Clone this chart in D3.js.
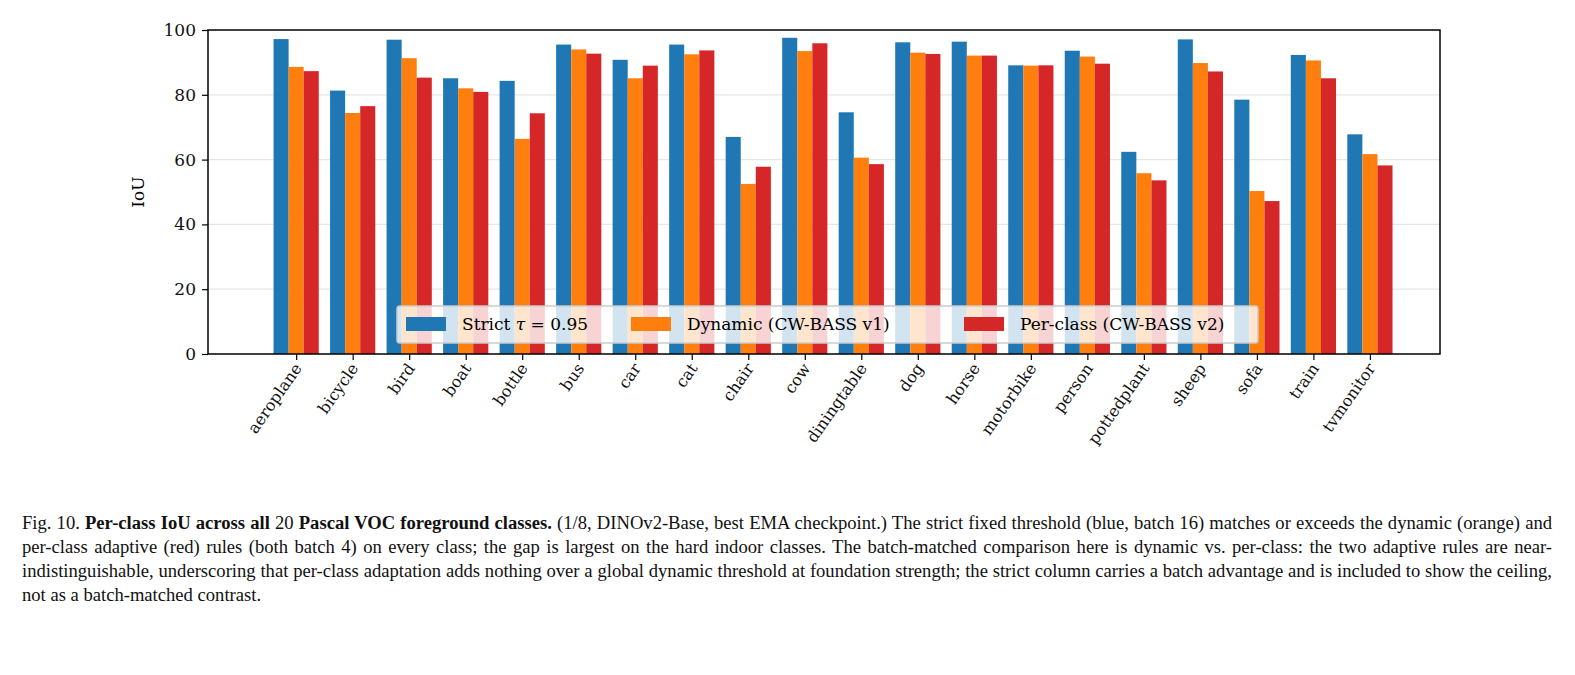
<!DOCTYPE html><html><head><meta charset="utf-8">
<script src="https://cdn.jsdelivr.net/npm/d3@7"></script>
<style>body{margin:0;background:#fff;width:1575px;height:675px;overflow:hidden}
.cap{position:absolute;left:22px;top:511px;width:1530px;font-family:"Liberation Serif",serif;font-size:18.6px;line-height:24px;text-align:justify;color:#111}</style></head><body>
<svg id="c" width="1575" height="500" style="position:absolute;left:0;top:0"></svg>
<div class="cap">Fig. 10. <b>Per-class IoU across all</b> 20 <b>Pascal VOC foreground classes.</b> (1/8, DINOv2-Base, best EMA checkpoint.) The strict fixed threshold (blue, batch 16) matches or exceeds the dynamic (orange) and per-class adaptive (red) rules (both batch 4) on every class; the gap is largest on the hard indoor classes. The batch-matched comparison here is dynamic vs. per-class: the two adaptive rules are near-indistinguishable, underscoring that per-class adaptation adds nothing over a global dynamic threshold at foundation strength; the strict column carries a batch advantage and is included to show the ceiling, not as a batch-matched contrast.</div>
<script>
const categories=["aeroplane","bicycle","bird","boat","bottle","bus","car","cat","chair","cow","diningtable","dog","horse","motorbike","person","pottedplant","sheep","sofa","train","tvmonitor"];
const strict=[97.2,81.3,97.0,85.1,84.3,95.5,90.8,95.5,67.0,97.6,74.6,96.2,96.4,89.1,93.6,62.4,97.1,78.5,92.3,67.8];
const dynamic=[88.6,74.4,91.3,82.0,66.4,94.0,85.1,92.5,52.5,93.5,60.6,93.0,92.1,89.0,91.8,55.8,89.8,50.3,90.6,61.7];
const perclass=[87.3,76.5,85.3,80.9,74.3,92.7,89.0,93.7,57.8,95.9,58.6,92.6,92.1,89.1,89.6,53.6,87.2,47.2,85.1,58.2];
const yTicks=[0,20,40,60,80,100];
const seriesNames=["Strict","Dynamic (CW-BASS v1)","Per-class (CW-BASS v2)"];
const colors=["#1f77b4","#ff7f0e","#d62728"];
const series=[strict,dynamic,perclass];
const svg=d3.select("#c");
const L=208,R=1440,T=30,B=354;
const x=d3.scaleLinear().domain([-1.56,20.24]).range([L,R]);
const y=d3.scaleLinear().domain([0,100]).range([B,T]);
const F="DejaVu Serif, serif";
svg.append("g").selectAll("line").data(yTicks.slice(1,5)).join("line")
 .attr("x1",L).attr("x2",R).attr("y1",d=>y(d)).attr("y2",d=>y(d)).attr("stroke","#e6e6e6").attr("stroke-width",1.2);
const w=0.8/3;
series.forEach((s,k)=>{
 svg.append("g").selectAll("rect").data(s).join("rect")
  .attr("x",(d,i)=>x(i+(k-1)*w-w/2)).attr("width",x(w)-x(0))
  .attr("y",d=>y(d)).attr("height",d=>y(0)-y(d)).attr("fill",colors[k]);
});
const ya=svg.append("g").attr("transform",`translate(${L},0)`).call(d3.axisLeft(y).tickValues(yTicks).tickSize(6).tickPadding(6));
ya.selectAll("text").attr("font-family",F).attr("font-size",17).attr("fill","#111");
ya.select(".domain").remove();
const xa=svg.append("g").attr("transform",`translate(0,${B})`).call(d3.axisBottom(x).tickValues(d3.range(20)).tickFormat(i=>categories[i]).tickSize(6));
xa.select(".domain").remove();
xa.selectAll("text").attr("font-family",F).attr("font-size",16).attr("fill","#111")
 .attr("text-anchor","end").attr("dx","0.1em").attr("dy","0.5em").attr("transform","rotate(-55) translate(-10,-4)");
svg.selectAll(".tick line").attr("stroke","#000").attr("stroke-width",1.2);
svg.append("rect").attr("x",L).attr("y",T).attr("width",R-L).attr("height",B-T).attr("fill","none").attr("stroke","#000").attr("stroke-width",1.5);
svg.append("text").attr("transform",`translate(144,${(T+B)/2}) rotate(-90)`).attr("text-anchor","middle").attr("font-family",F).attr("font-size",17).text("IoU");
// legend
const lg=svg.append("g");
lg.append("rect").attr("x",397).attr("y",306).attr("width",861).attr("height",37).attr("rx",3).attr("fill","rgba(255,255,255,0.8)").attr("stroke","#ccc").attr("stroke-width",1.5);
const lx=[406,631,964];
seriesNames.forEach((n,k)=>{
 lg.append("rect").attr("x",lx[k]).attr("y",317).attr("width",40).attr("height",14).attr("fill",colors[k]);
 const t=lg.append("text").attr("x",lx[k]+56).attr("y",330).attr("font-family",F).attr("font-size",17);
 if(k==0){t.text("Strict ");t.append("tspan").attr("font-style","italic").text("τ");t.append("tspan").text(" = 0.95");}
 else t.text(n);
});
</script></body></html>
